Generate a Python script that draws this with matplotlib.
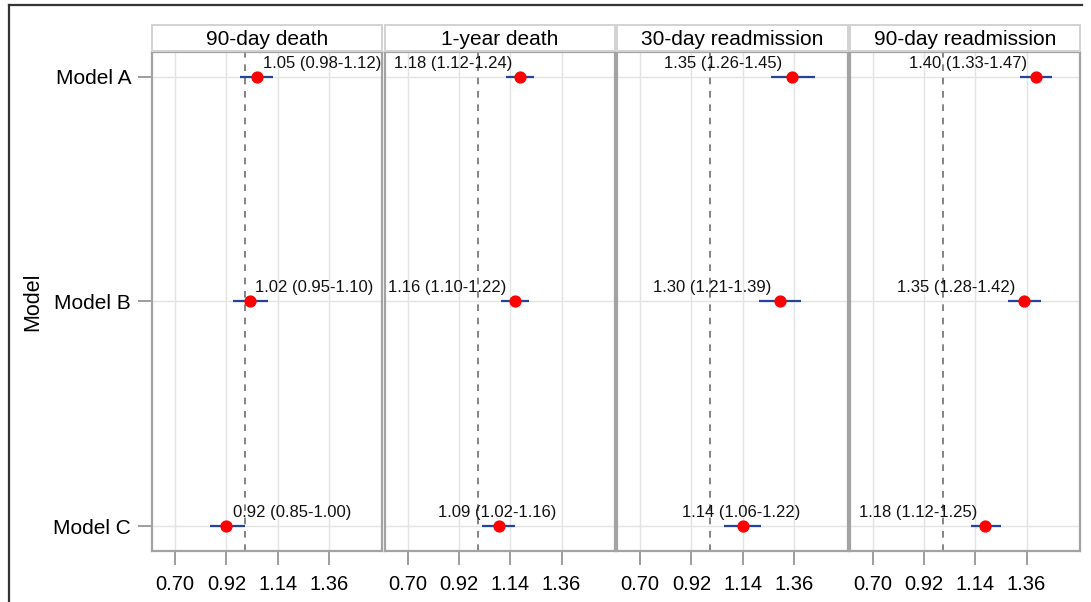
import matplotlib
matplotlib.use("Agg")
import matplotlib.pyplot as plt
from matplotlib.lines import Line2D

plt.rcParams['font.family'] = ['Liberation Sans', 'DejaVu Sans']

outcomes = ["90-day death", "1-year death", "30-day readmission", "90-day readmission"]
models = ["Model A", "Model B", "Model C"]
hr = [[1.05, 1.02, 0.92], [1.18, 1.16, 1.09], [1.35, 1.30, 1.14], [1.40, 1.35, 1.18]]
lo = [[0.98, 0.95, 0.85], [1.12, 1.10, 1.02], [1.26, 1.21, 1.06], [1.33, 1.28, 1.12]]
hi = [[1.12, 1.10, 1.00], [1.24, 1.22, 1.16], [1.45, 1.39, 1.22], [1.47, 1.42, 1.25]]
# label anchor (centre) positions, in axis units
label_x = [[1.33, 1.296, 1.204], [0.894, 0.871, 1.083], [1.058, 1.009, 1.133], [1.111, 1.06, 0.897]]
xticks = [0.70, 0.92, 1.14, 1.36]
ref_line = 1.0

W, H = 1091, 602
fig = plt.figure(figsize=(W / 100, H / 100), dpi=100)

def fx(px):
    return px / W

def fy(py):
    return 1 - py / H

# outer frame (top and left only, as cropped in the reference)
fig.add_artist(Line2D([fx(9), fx(1082)], [fy(5), fy(5)], color='#333333', lw=1.6))
fig.add_artist(Line2D([fx(9), fx(9)], [fy(5), fy(602)], color='#333333', lw=1.6))

top_px, bot_px = 52, 551
strip_top = 25
left0, width, step = 152, 230.5, 232.5
ypos = list(range(len(models)))

for i, name in enumerate(outcomes):
    lpx = left0 + i * step
    ax = fig.add_axes([fx(lpx), fy(bot_px), width / W, (bot_px - top_px) / H])
    ax.set_xlim(0.601, 1.589)
    ax.set_ylim(2.111, -0.111)
    ax.set_xticks(xticks)
    ax.set_xticklabels([f"{t:.2f}" for t in xticks], fontsize=14.5)
    ax.set_yticks(ypos)
    if i == 0:
        ax.set_yticklabels(models, fontsize=15)
        ax.set_ylabel("Model", fontsize=15.5, labelpad=7)
    else:
        ax.tick_params(axis='y', left=False, labelleft=False)
    ax.tick_params(axis='x', length=10, width=1.2, color='#8c8c8c', pad=7)
    ax.tick_params(axis='y', length=10, width=1.2, color='#8c8c8c', pad=5)
    ax.grid(True, color='#e3e3e3', lw=1.0)
    ax.set_axisbelow(True)
    for s in ax.spines.values():
        s.set_color('#a3a3a3')
        s.set_linewidth(1.6)
    ax.axvline(ref_line, color='#707070', lw=1.2, ls=(0, (4, 4)), zorder=2)
    ax.hlines(ypos, lo[i], hi[i], color='#23449a', lw=1.6, zorder=3)
    ax.plot(hr[i], ypos, 'o', color='#ff0000', markersize=7.8, zorder=4)
    for j in ypos:
        txt = f"{hr[i][j]:.2f} ({lo[i][j]:.2f}-{hi[i][j]:.2f})"
        ax.annotate(txt, (label_x[i][j], j), xytext=(0, 10), textcoords='offset points',
                    ha='center', va='center', fontsize=12, color='#111111',
                    annotation_clip=False, zorder=5)
    # header strip
    sax = fig.add_axes([fx(lpx), fy(top_px - 1), width / W, (top_px - 1 - strip_top) / H])
    sax.set_xticks([])
    sax.set_yticks([])
    sax.set_facecolor('white')
    for s in sax.spines.values():
        s.set_color('#d2d2d2')
        s.set_linewidth(1.4)
    sax.text(0.5, 0.45, name, ha='center', va='center', fontsize=15, transform=sax.transAxes)

fig.savefig("out.png", dpi=100)
